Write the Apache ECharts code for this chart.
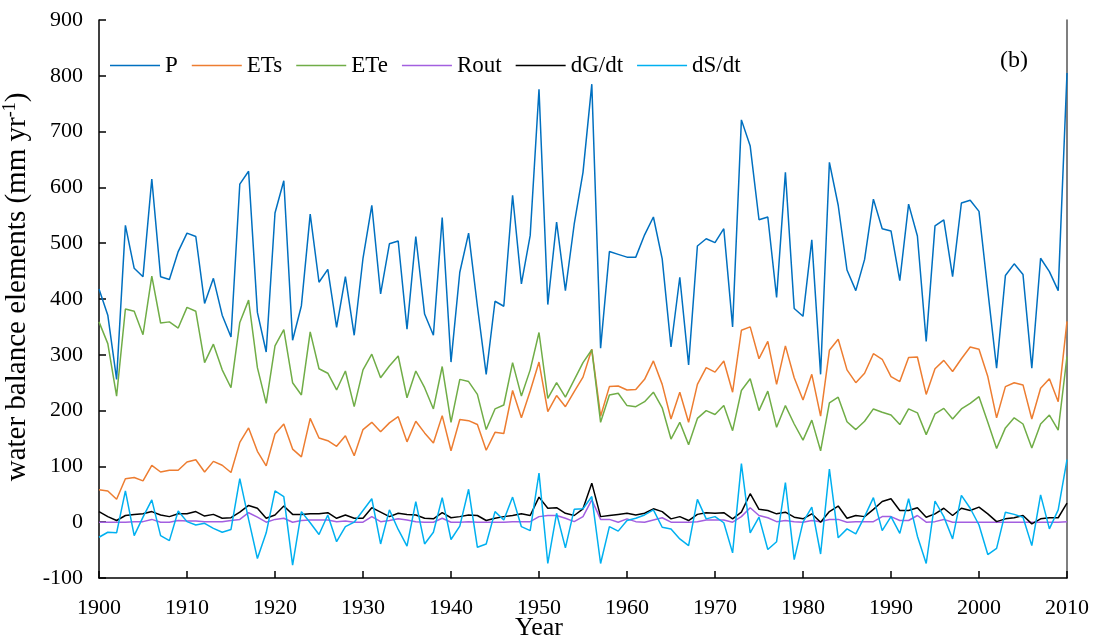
<!DOCTYPE html>
<html>
<head>
<meta charset="utf-8">
<script src="https://cdn.jsdelivr.net/npm/echarts@6/dist/echarts.min.js"></script>
<style>html,body{margin:0;padding:0;background:#fff}#c{width:1097px;height:643px}</style>
</head>
<body>
<div id="c"></div>
<script>
var startYear = 1900;
var P = [418,371,256,532,455,440,615,440,435,485,518,512,392,437,371,332,606,629,376,305,
554,612,326,388,552,430,453,349,440,335,473,568,409,499,504,346,512,373,335,546,
287,448,518,387,265,396,387,586,427,514,776,390,538,415,534,627,785,312,485,480,
475,475,515,547,472,314,439,282,495,508,501,526,350,721,674,542,547,403,627,383,
369,506,265,645,568,452,415,471,579,526,522,433,570,513,324,531,542,440,572,577,
557,415,276,442,463,444,276,473,449,415,805];
var ETs = [58,56,41,78,80,74,102,90,93,93,108,112,90,109,102,89,143,169,127,101,
158,176,131,117,186,151,146,136,155,119,166,179,162,178,189,144,181,160,142,191,
128,184,182,175,129,161,159,236,187,235,287,198,227,207,234,260,310,190,243,244,
237,238,256,289,247,185,233,179,247,277,269,289,233,344,350,293,324,247,316,259,
219,265,190,308,328,273,250,267,302,292,261,252,295,296,229,275,290,270,293,314,
310,261,187,243,250,246,185,240,257,216,360];
var ETe = [359,320,226,382,378,336,441,357,359,348,385,378,286,319,273,241,358,398,277,213,
316,345,250,228,341,275,267,237,271,207,273,301,259,280,298,223,271,241,203,279,
179,256,252,229,166,203,210,286,226,273,340,222,250,224,255,286,309,179,228,231,
209,207,216,233,205,149,179,139,186,200,193,209,164,236,257,200,235,170,209,176,
147,183,128,214,224,180,166,181,203,197,192,175,203,196,157,194,204,185,203,213,
225,179,132,169,187,176,133,176,192,165,297];
var Rout = [0,0,0,0,1,1,5,0,0,3,2,2,1,1,1,3,5,17,9,0,
5,7,0,3,4,4,4,1,2,0,0,10,1,3,6,4,1,0,0,7,
0,0,1,0,0,0,0,1,1,1,10,12,12,7,1,10,40,5,5,0,
6,1,0,4,8,0,0,0,1,4,4,4,0,10,26,12,8,1,3,1,
0,3,1,5,5,0,1,1,1,10,10,3,3,12,0,1,5,0,0,0,
0,0,0,0,0,0,0,0,0,0,1];
var dGdt = [19,10,3,12,14,15,19,13,10,15,15,19,11,14,7,8,18,30,25,7,
13,29,14,14,15,15,17,7,13,7,7,26,18,10,16,14,13,7,6,17,
8,10,13,12,3,7,10,12,15,12,45,25,26,16,12,24,70,10,12,14,
16,13,16,24,19,6,10,3,14,17,16,17,6,18,51,23,21,15,18,9,
6,15,0,19,29,7,12,10,23,37,42,21,21,26,9,15,25,12,25,21,
27,15,1,6,8,12,-3,6,8,8,34];
var dSdt = [-27,-18,-19,56,-24,9,40,-24,-33,20,1,-5,-2,-11,-18,-13,78,5,-65,-19,
56,46,-77,19,-1,-22,13,-35,-8,0,21,42,-39,22,-13,-43,37,-39,-18,44,
-31,-7,59,-45,-39,19,4,45,-8,-15,88,-74,16,-46,23,24,46,-74,-8,-16,
3,7,13,22,-9,-12,-30,-42,41,6,10,-1,-55,105,-19,9,-49,-35,71,-67,
0,27,-57,95,-28,-12,-21,10,44,-15,10,-20,42,-25,-74,38,10,-30,48,25,
-5,-58,-47,18,14,9,-42,49,-12,22,112];
var names = ['P','ETs','ETe','Rout','dG/dt','dS/dt'];
var colors = ['#0070C0','#ED7D31','#70AD47','#A35FE0','#000000','#00B0F0'];
var xTicks = {min:1900, max:2010, interval:10};
var yTicks = {min:-100, max:900, interval:100};

function pairs(arr){ return arr.map(function(v,i){ return [startYear+i, v]; }); }
var seriesData = [P, ETs, ETe, Rout, dGdt, dSdt];
var font = 'Liberation Serif, Times New Roman, serif';

var chart = echarts.init(document.getElementById('c'), null, {renderer:'canvas'});
chart.setOption({
  animation:false,
  backgroundColor:'#fff',
  textStyle:{fontFamily:font},
  grid:{left:99, right:30, top:20, bottom:65, containLabel:false, outerBoundsMode:'none'},
  legend:{
    left:105, top:49, itemWidth:50, itemHeight:14, itemGap:14,
    textStyle:{fontFamily:font, fontSize:23, color:'#000'},
    data:names.map(function(n){return {name:n, icon:'path://M0,0L50,0L50,1.5L0,1.5Z'};})
  },
  xAxis:{
    type:'value', min:xTicks.min, max:xTicks.max, interval:xTicks.interval,
    axisLine:{onZero:false, lineStyle:{color:'#000', width:1.5}},
    axisTick:{inside:true, length:7, lineStyle:{color:'#000', width:1.5}},
    axisLabel:{fontFamily:font, fontSize:22, color:'#000', margin:19,
      formatter:function(v){ return String(v); }},
    splitLine:{show:false}
  },
  yAxis:[{
    type:'value', min:yTicks.min, max:yTicks.max, interval:yTicks.interval,
    name:'water balance elements (mm yr{sup|-1})', nameLocation:'middle', nameGap:66,
    nameTextStyle:{fontFamily:font, fontSize:29, color:'#000', padding:[0,0,0,24],
      rich:{sup:{fontFamily:font, fontSize:18, color:'#000', verticalAlign:'top', padding:[0,0,14,0]}}},
    axisLine:{show:true, onZero:false, lineStyle:{color:'#000', width:1.5}},
    axisTick:{show:true, inside:true, length:7, lineStyle:{color:'#000', width:1.5}},
    axisLabel:{fontFamily:font, fontSize:22, color:'#000', margin:16},
    splitLine:{show:false}
  },{
    type:'value', min:yTicks.min, max:yTicks.max, interval:yTicks.interval, position:'right',
    axisLine:{show:true, onZero:false, lineStyle:{color:'#555', width:1.5}},
    axisTick:{show:false}, axisLabel:{show:false}, splitLine:{show:false}
  }],
  graphic:[{
    type:'text', left:1000, top:49,
    style:{text:'(b)', fontFamily:font, fontSize:24, fill:'#000'}
  },{
    type:'text', left:515, top:615,
    style:{text:'Year', fontFamily:font, fontSize:26, fill:'#000'}
  }],
  series:seriesData.map(function(d,i){
    return {
      name:names[i], type:'line', data:pairs(d), symbol:'none', showSymbol:false,
      lineStyle:{color:colors[i], width:1.5}, itemStyle:{color:colors[i]},
      z: i===0?2:3
    };
  })
});
</script>
</body>
</html>
